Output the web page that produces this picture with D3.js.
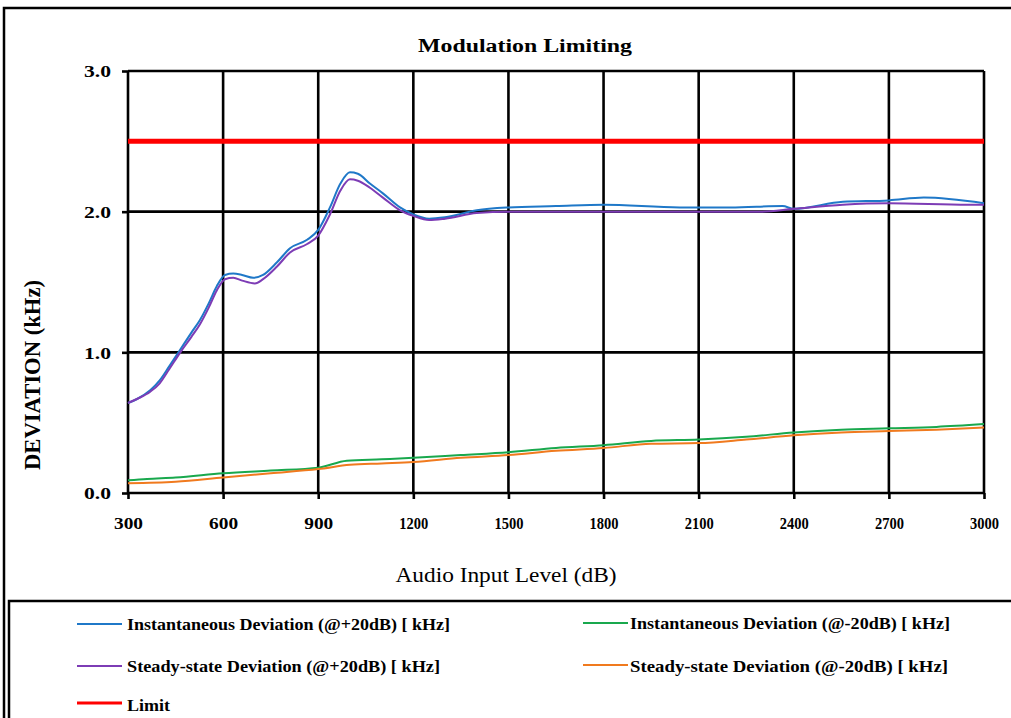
<!DOCTYPE html>
<html>
<head>
<meta charset="utf-8">
<script src="https://cdn.jsdelivr.net/npm/d3@7/dist/d3.min.js"></script>
<style>
  html, body { margin: 0; padding: 0; background: #fff; }
  svg { display: block; }
  text { font-family: "Liberation Serif", "Times New Roman", serif; }
</style>
</head>
<body>
<svg id="chart" width="1011" height="718"></svg>
<script>
// ---------- data ----------
const xTicks = [300, 600, 900, 1200, 1500, 1800, 2100, 2400, 2700, 3000];
const yTicks = [0.0, 1.0, 2.0, 3.0];

const instPlusX = [300,330,370,400,430,465,500,527,555,580,606,632,660,695,726,770,811,865,900,937,970,1000,1025,1063,1104,1158,1200,1250,1300,1400,1500,1650,1800,2040,2200,2365,2400,2555,2700,2810,3000];
const instPlusY = [0.64,0.67,0.73,0.80,0.90,1.02,1.14,1.23,1.35,1.47,1.55,1.56,1.55,1.53,1.55,1.64,1.74,1.80,1.87,2.03,2.20,2.28,2.27,2.20,2.13,2.03,1.98,1.95,1.96,2.01,2.03,2.04,2.05,2.03,2.03,2.04,2.02,2.07,2.08,2.10,2.06];

const steadyPlusX = [300,330,370,400,430,465,500,527,555,580,606,632,660,700,726,770,811,865,900,937,970,1000,1025,1063,1104,1158,1200,1250,1300,1400,1500,1800,2100,2300,2400,2555,2700,2950,3000];
const steadyPlusY = [0.64,0.67,0.72,0.78,0.88,1.00,1.11,1.20,1.32,1.44,1.52,1.53,1.51,1.49,1.52,1.61,1.71,1.77,1.83,1.98,2.15,2.23,2.22,2.17,2.10,2.01,1.97,1.94,1.95,1.99,2.00,2.00,2.00,2.00,2.02,2.05,2.06,2.05,2.05];

const instMinusX = [300,360,450,600,750,900,990,1100,1200,1350,1500,1650,1800,1950,2100,2250,2400,2550,2700,2850,3000];
const instMinusY = [0.09,0.10,0.11,0.14,0.16,0.18,0.23,0.24,0.25,0.27,0.29,0.32,0.34,0.37,0.38,0.40,0.43,0.45,0.46,0.47,0.49];

const steadyMinusX = [300,450,600,750,900,1000,1100,1200,1350,1500,1650,1800,1950,2100,2250,2400,2550,2700,2850,3000];
const steadyMinusY = [0.07,0.08,0.11,0.14,0.17,0.20,0.21,0.22,0.25,0.27,0.30,0.32,0.35,0.355,0.38,0.41,0.43,0.44,0.45,0.465];

const limitX = [300, 3000];
const limitY = [2.5, 2.5];

const seriesNames = [
  "Instantaneous Deviation (@+20dB) [ kHz]",
  "Instantaneous Deviation (@-20dB) [ kHz]",
  "Steady-state Deviation (@+20dB) [ kHz]",
  "Steady-state Deviation (@-20dB) [ kHz]",
  "Limit"
];
const seriesColors = ["#1f78c8", "#19a84d", "#7d3cb5", "#f07a1e", "#ff0000"];

// ---------- setup ----------
const svg = d3.select("#chart");
const plotLeft = 128, plotRight = 984, plotTop = 71, plotBottom = 493;

const x = d3.scaleLinear().domain([300, 3000]).range([plotLeft, plotRight]);
const y = d3.scaleLinear().domain([0, 3]).range([plotBottom, plotTop]);

// outer borders
svg.append("rect").attr("x", 4).attr("y", 8).attr("width", 1030).attr("height", 740)
  .attr("fill", "none").attr("stroke", "#000").attr("stroke-width", 2.5);
svg.append("rect").attr("x", 9).attr("y", 601).attr("width", 1030).attr("height", 200)
  .attr("fill", "#fff").attr("stroke", "#000").attr("stroke-width", 2.5);

// title
svg.append("text").attr("x", 525).attr("y", 52).attr("text-anchor", "middle")
  .attr("font-size", 18).attr("font-weight", "bold")
  .attr("textLength", 214).attr("lengthAdjust", "spacingAndGlyphs")
  .text("Modulation Limiting");

// grid
const g = svg.append("g");
g.selectAll(".vg").data(xTicks.slice(1)).join("line")
  .attr("x1", d => x(d)).attr("x2", d => x(d)).attr("y1", y(3)).attr("y2", y(0))
  .attr("stroke", "#000").attr("stroke-width", 2.6);
g.selectAll(".hg").data(yTicks.slice(1)).join("line")
  .attr("x1", x(300)).attr("x2", x(3000)).attr("y1", d => y(d)).attr("y2", d => y(d))
  .attr("stroke", "#000").attr("stroke-width", 2.6);

// axes
const xAxis = d3.axisBottom(x).tickValues(xTicks).tickSize(6).tickFormat(d3.format("d"));
const yAxis = d3.axisLeft(y).tickValues(yTicks).tickSize(6).tickFormat(d3.format(".1f"));

const gx = svg.append("g").attr("transform", `translate(0,${plotBottom})`).call(xAxis);
gx.select(".domain").attr("stroke", "#000").attr("stroke-width", 2.6).attr("d", `M${plotLeft},0H${plotRight}`);
gx.selectAll(".tick line").attr("stroke", "#000").attr("stroke-width", 2.6);
gx.selectAll(".tick text").attr("y", 36).attr("dy", 0)
  .attr("font-family", "Liberation Serif").attr("font-size", 17).attr("font-weight", "bold")
  .attr("textLength", 29).attr("lengthAdjust", "spacingAndGlyphs").attr("fill", "#000");

const gy = svg.append("g").attr("transform", `translate(${plotLeft},0)`).call(yAxis);
gy.select(".domain").attr("stroke", "#000").attr("stroke-width", 2.6).attr("d", `M0,${plotBottom}V${plotTop}`);
gy.selectAll(".tick line").attr("stroke", "#000").attr("stroke-width", 2.6);
gy.selectAll(".tick text").attr("x", -17).attr("dy", "0.36em")
  .attr("font-family", "Liberation Serif").attr("font-size", 16).attr("font-weight", "bold")
  .attr("textLength", 27).attr("lengthAdjust", "spacingAndGlyphs").attr("fill", "#000");

// axis titles
svg.append("text").attr("transform", "translate(40,375) rotate(-90)")
  .attr("text-anchor", "middle").attr("font-size", 23).attr("font-weight", "bold")
  .attr("textLength", 190).attr("lengthAdjust", "spacingAndGlyphs")
  .text("DEVIATION (kHz)");
svg.append("text").attr("x", 506).attr("y", 582).attr("text-anchor", "middle")
  .attr("font-size", 21)
  .attr("textLength", 221).attr("lengthAdjust", "spacingAndGlyphs")
  .text("Audio Input Level (dB)");

// lines
const line = d3.line().x(d => x(d[0])).y(d => y(d[1])).curve(d3.curveMonotoneX);
const zip = (a, b) => a.map((v, i) => [v, b[i]]);
const seriesData = [
  zip(instPlusX, instPlusY),
  zip(instMinusX, instMinusY),
  zip(steadyPlusX, steadyPlusY),
  zip(steadyMinusX, steadyMinusY),
  zip(limitX, limitY)
];
const widths = [2, 2, 2, 2, 5];
svg.append("g").selectAll("path").data(seriesData).join("path")
  .attr("d", line).attr("fill", "none")
  .attr("stroke", (d, i) => seriesColors[i])
  .attr("stroke-width", (d, i) => widths[i]);

// legend
const legendPos = [
  {lx: 77, ly: 624, tx: 127, ty: 630, w: 323},
  {lx: 583, ly: 623, tx: 630, ty: 629, w: 320},
  {lx: 77, ly: 666, tx: 127, ty: 672, w: 313},
  {lx: 583, ly: 665, tx: 630, ty: 672, w: 318},
  {lx: 77, ly: 703, tx: 127, ty: 711, w: 43}
];
const lg = svg.append("g");
seriesNames.forEach((name, i) => {
  const p = legendPos[i];
  lg.append("line").attr("x1", p.lx).attr("x2", p.lx + 45).attr("y1", p.ly).attr("y2", p.ly)
    .attr("stroke", seriesColors[i]).attr("stroke-width", i === 4 ? 3 : 2);
  lg.append("text").attr("x", p.tx).attr("y", p.ty)
    .attr("font-size", 17).attr("font-weight", "bold")
    .attr("textLength", p.w).attr("lengthAdjust", "spacingAndGlyphs")
    .text(name);
});
</script>
</body>
</html>
